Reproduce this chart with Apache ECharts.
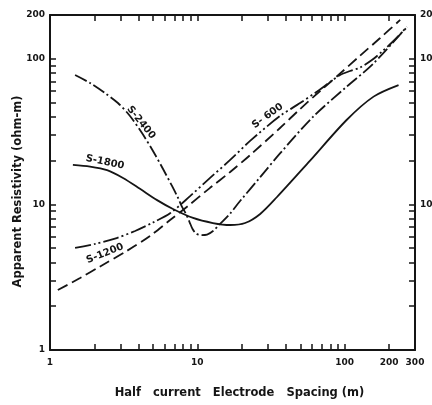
<!DOCTYPE html>
<html>
<head>
<meta charset="utf-8">
<script src="https://cdn.jsdelivr.net/npm/echarts@6/dist/echarts.min.js"></script>
<style>
html,body{margin:0;padding:0;background:#fff;}
#chart{width:432px;height:405px;}
</style>
</head>
<body>
<div id="chart"></div>
<script>
// Tick / label values
const xLabelValues = [1, 10, 100, 200, 300];
const yLabelValues = [1, 10, 100, 200];
const yRightLabelValues = [10, 100, 200];
const xTickValues = [1,2,3,4,5,6,7,8,9,10,20,30,40,50,60,70,80,90,100,200,300];
const yTickValues = [1,2,3,4,5,6,7,8,9,10,20,30,40,50,60,70,80,90,100,200];

// Curves: [half electrode spacing (m), apparent resistivity (ohm-m)]
const s600 = [[1.48,5.02],[2.02,5.35],[2.76,5.83],[3.78,6.57],[5.0,7.51],[6.53,8.69],[8.92,11.4],[12.2,15.2],[16.7,20.2],[22.8,27.3],[36.4,40.5],[49.8,49.7],[64.9,59.6],[79.6,69.3],[93.1,77.4],[108.8,82.5],[127,87.1],[153,98.1],[179,112],[210,130],[265,165]];
const s1200 = [[1.13,2.58],[1.6,3.12],[2.19,3.75],[3.32,4.79],[4.77,6.07],[6.53,7.81],[8.47,9.6],[12.2,13.0],[16.7,16.7],[22.8,21.8],[36.4,33.5],[49.8,45.2],[68.1,60.1],[93.1,79.3],[127,105],[174,139],[238,185]];
const s1800 = [[1.43,18.7],[1.87,18.2],[2.44,17.2],[3.13,15.2],[4.08,12.8],[5.33,10.7],[6.83,9.3],[9.35,8.07],[12.75,7.45],[16.7,7.22],[21.1,7.45],[26.7,8.6],[34.6,11.2],[58,19.9],[103,38],[157,55],[232,66]];
const s2400 = [[1.48,77.4],[1.87,68.2],[2.36,58.2],[2.89,49.7],[3.49,40.5],[4.21,30.9],[5.0,23.3],[5.85,17.5],[6.73,13.4],[7.4,11.07],[7.84,9.7],[8.38,8.59],[8.85,7.57],[9.28,6.78],[9.8,6.31],[10.6,6.16],[11.64,6.21],[12.78,6.57],[14.26,7.34],[16.7,8.66],[19.5,10.55],[26.7,15.4],[36.4,22.4],[61,40],[103,64.3],[157,93],[264,166]];

const INK = '#151515';
const FONT = '"DejaVu Sans", sans-serif';

function xAxisCfg(pos, showLabel) {
  return {
    type: 'log', logBase: 10, min: 1, max: 300, position: pos,
    axisLine: { show: true, onZero: false, lineStyle: { color: INK, width: 2 } },
    axisTick: { show: true, inside: true, length: 6, customValues: xTickValues, lineStyle: { color: INK, width: 1.5 } },
    axisLabel: { show: showLabel, customValues: xLabelValues, fontSize: 9, fontWeight: 'bold', fontFamily: FONT, color: INK, margin: 8 },
    splitLine: { show: false }, minorTick: { show: false }, minorSplitLine: { show: false }
  };
}
function yAxisCfg(pos, labels) {
  return {
    type: 'log', logBase: 10, min: 1, max: 200, position: pos,
    axisLine: { show: true, onZero: false, lineStyle: { color: INK, width: 2 } },
    axisTick: { show: true, inside: true, length: 6, customValues: yTickValues, lineStyle: { color: INK, width: 1.5 } },
    axisLabel: { show: true, customValues: labels, fontSize: 9, fontWeight: 'bold', fontFamily: FONT, color: INK, margin: 5 },
    splitLine: { show: false }, minorTick: { show: false }, minorSplitLine: { show: false }
  };
}

const xMain = xAxisCfg('bottom', true);
xMain.name = 'Half   current   Electrode   Spacing (m)';
xMain.nameLocation = 'middle';
xMain.nameGap = 37;
xMain.nameMoveOverlap = false;
xMain.nameTextStyle = { fontSize: 11.5, fontWeight: 'bold', fontFamily: FONT, color: INK, padding: [0, 0, 0, 14] };

const yMain = yAxisCfg('left', yLabelValues);
yMain.name = 'Apparent Resistivity (ohm-m)';
yMain.nameLocation = 'middle';
yMain.nameGap = 26;
yMain.nameMoveOverlap = false;
yMain.nameTextStyle = { fontSize: 11.5, fontWeight: 'bold', fontFamily: FONT, color: INK, padding: [0, 18, 0, 0] };

function curve(name, data, type, labelText, coord, rot) {
  return {
    name: name, type: 'line', data: data, smooth: 0.3, symbol: 'none',
    xAxisIndex: 0, yAxisIndex: 0,
    lineStyle: { color: INK, width: 1.8, type: type },
    markPoint: {
      symbol: 'circle', symbolSize: 1, itemStyle: { color: 'rgba(0,0,0,0)' },
      silent: true,
      data: [{ coord: coord, value: labelText,
        label: { show: true, position: 'inside', formatter: labelText, rotate: rot,
          fontSize: 10, fontWeight: 'bold', fontFamily: FONT, color: INK } }]
    }
  };
}

const option = {
  backgroundColor: '#ffffff',
  animation: false,
  grid: { left: 50, right: 17, top: 15, bottom: 55, containLabel: false, outerBoundsMode: 'none' },
  xAxis: [xMain, xAxisCfg('top', false)],
  yAxis: [yMain, yAxisCfg('right', yRightLabelValues)],
  series: [
    curve('S-600', s600, [16, 3, 2, 3, 2, 3], 'S- 600', [30, 40.5], 36),
    curve('S-1200', s1200, [11, 5], 'S-1200', [2.36, 4.6], 22),
    curve('S-1800', s1800, 'solid', 'S-1800', [2.36, 19.5], -12),
    curve('S-2400', s2400, [13, 3, 2, 3], 'S-2400', [4.15, 36.5], -51)
  ]
};

const chart = echarts.init(document.getElementById('chart'), null, { renderer: 'canvas' });
chart.setOption(option);
</script>
</body>
</html>
